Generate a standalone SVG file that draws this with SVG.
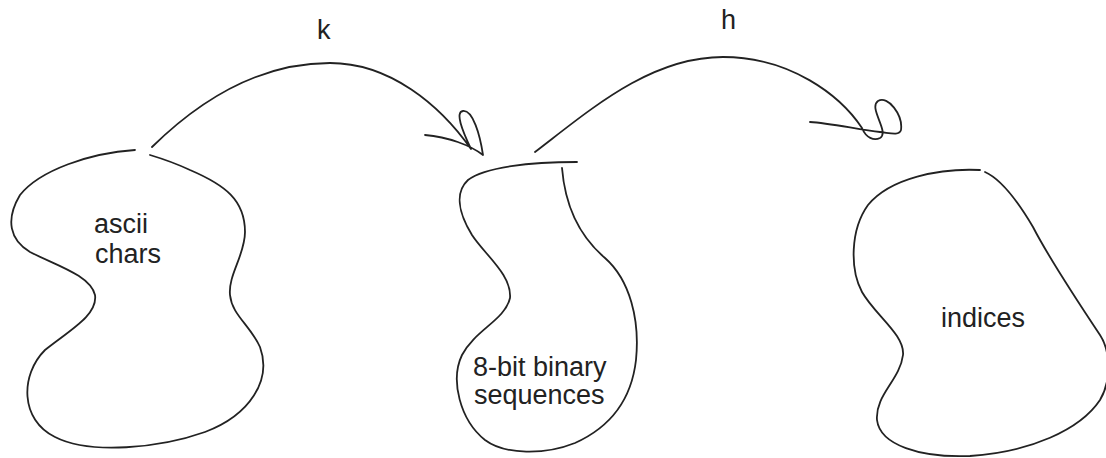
<svg xmlns="http://www.w3.org/2000/svg" width="1106" height="458" viewBox="0 0 1106 458">
<style>
.s{fill:none;stroke:#222;stroke-width:1.8;stroke-linecap:round;stroke-linejoin:round}
.t{font-family:"Liberation Sans",Arial,sans-serif;font-size:27px;fill:#222}
</style>
<rect width="1106" height="458" fill="#fff"/>
<g id="connectors">
<path class="s" d="M152,147 C 210,90 270,63 330,63 C 390,63 440,105 471,149 C 462,130 455,112 463,111 C 473,110 480,135 483,155 C 470,145 448,137 425,135"/>
<text class="t" x="317" y="39">k</text>
<path class="s" d="M535,152 C 590,110 650,57 723,57 C 790,57 840,95 862,128 C 866,138 874,141 880,138 C 890,132 868,108 878,101 C 888,95 903,115 901,130 C 899,136 890,133 880,132 C 860,130 830,123 810,122"/>
<text class="t" x="721" y="29">h</text>
</g>
<g id="ascii-chars">
<path class="s" d="M135,150 C 90,153 40,170 20,195 C 5,220 10,240 30,252 C 55,265 90,275 95,295 C 98,315 70,330 45,350 C 20,375 20,420 55,437 C 90,455 160,448 205,432 C 250,415 272,380 260,347 C 250,325 232,315 230,295 C 228,275 245,255 245,232 C 245,200 225,185 190,170 C 175,163 160,158 150,155"/>
<text class="t" x="94" y="233">ascii</text>
<text class="t" x="95" y="263">chars</text>
</g>
<g id="binary-sequences">
<path class="s" d="M562,168 C 565,205 578,235 605,258 C 630,280 640,320 636,360 C 632,395 615,425 575,443 C 545,455 505,455 485,440 C 460,420 450,380 462,355 C 475,330 505,320 510,298 C 512,275 485,255 472,235 C 458,212 455,192 468,180 C 485,167 530,162 577,162"/>
<text class="t" x="473" y="376">8-bit binary</text>
<text class="t" x="474" y="404">sequences</text>
</g>
<g id="indices">
<path class="s" d="M980,170 C 940,168 890,178 868,205 C 850,230 850,270 862,292 C 875,315 905,335 903,355 C 900,380 875,395 877,420 C 880,445 920,458 970,456 C 1030,452 1080,430 1100,400 C 1112,380 1110,350 1100,335 C 1080,305 1050,260 1033,227 C 1020,205 1003,180 985,172"/>
<text class="t" x="941" y="327">indices</text>
</g>
</svg>
